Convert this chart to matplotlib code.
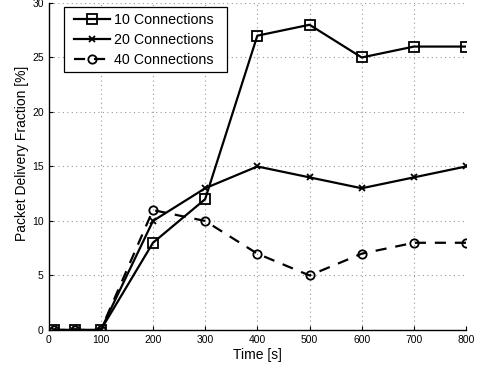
import matplotlib
matplotlib.use("Agg")
import matplotlib.pyplot as plt
from matplotlib.patches import Rectangle

time_s = [10, 50, 100, 200, 300, 400, 500, 600, 700, 800]
conn10 = [0, 0, 0, 8, 12, 27, 28, 25, 26, 26]
conn20 = [0, 0, 0, 10, 13, 15, 14, 13, 14, 15]
conn40 = [0, 0, 0, 11, 10, 7, 5, 7, 8, 8]
labels = ["10 Connections", "20 Connections", "40 Connections"]
xticks = [0, 100, 200, 300, 400, 500, 600, 700, 800]
yticks = [0, 5, 10, 15, 20, 25, 30]

plt.rcParams['font.family'] = ['Liberation Sans', 'DejaVu Sans']
fig = plt.figure(figsize=(4.81, 3.72), dpi=100)
ax = fig.add_axes([0.101, 0.113, 0.868, 0.879])

ax.plot(time_s, conn10, '-', color='black', lw=1.6, marker='s', ms=6.5,
        mfc='none', mew=1.3, label=labels[0])
ax.plot(time_s, conn20, '-', color='black', lw=1.6, marker='x', ms=5,
        mew=1.3, label=labels[1])
ax.plot(time_s, conn40, '--', color='black', lw=1.6, marker='o', ms=6,
        mfc='none', mew=1.3, dashes=(5, 4), label=labels[2])

ax.set_xlim(0, 800)
ax.set_ylim(0, 30)
ax.set_xticks(xticks)
ax.set_yticks(yticks)
ax.tick_params(labelsize=7.5, direction='in', length=3, width=0.8)
ax.grid(True, linestyle=(0, (1, 3)), color='#999999', lw=0.8)
for s in ['top', 'right']:
    ax.spines[s].set_visible(False)
ax.spines['left'].set_linewidth(1.0)
ax.spines['bottom'].set_linewidth(1.0)
ax.set_xlabel("Time [s]", fontsize=10, labelpad=2)
ax.set_ylabel("Packet Delivery Fraction [%]", fontsize=10)
ax.yaxis.set_label_coords(-0.048, 0.54)

# legend frame (MATLAB style, wider on the right)
ax.add_patch(Rectangle((0.036, 0.789), 0.392, 0.199, transform=ax.transAxes,
                       facecolor='white', edgecolor='black', lw=0.9, zorder=4))
leg = ax.legend(loc='upper left', bbox_to_anchor=(0.046, 0.988), fontsize=10.3,
                frameon=False, handlelength=2.5, borderpad=0.45,
                labelspacing=0.42, handletextpad=0.3, borderaxespad=0)
leg.set_zorder(5)

fig.savefig("out.png", dpi=100)
